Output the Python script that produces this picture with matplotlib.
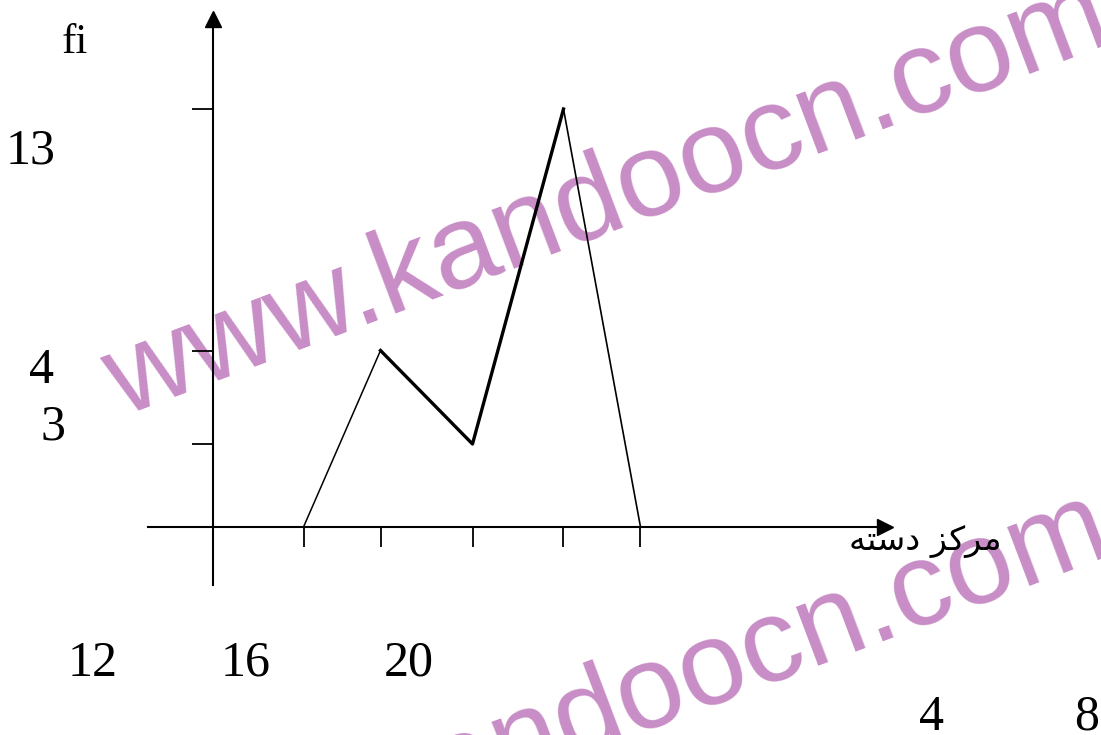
import numpy as np
import matplotlib
matplotlib.use("Agg")
import matplotlib.pyplot as plt

# Frequency polygon: class centres and their frequencies.
centers = [4, 8, 12, 16, 20]
freqs = [0, 4, 3, 13, 0]
y_ticks = [3, 4, 13]
x_title = "مرکز دسته"
y_title = "fi"
watermark = "www.kandoocn.com"

# The sketch is not drawn to scale: where each value sits on the page (px).
x_knots = [-20, 0, 4, 8, 12, 16, 20, 60]
x_px = [-215, 213, 303.5, 380.5, 472.5, 563.5, 640.5, 1496]
y_knots = [-10, 0, 3, 4, 13, 40]
y_px = [-280, 0, 83, 176.5, 418, 1141]

W, H = 1101, 735


def fx(v):
    return np.interp(v, x_knots, x_px)


def fx_inv(p):
    return np.interp(p, x_px, x_knots)


def fy(v):
    return np.interp(v, y_knots, y_px)


def fy_inv(p):
    return np.interp(p, y_px, y_knots)


# matplotlib does no Arabic shaping, so pick the joined glyph forms by hand
FORMS = {  # isolated, final, initial, medial
    "م": "\uFEE1\uFEE2\uFEE3\uFEE4",
    "ر": "\uFEAD\uFEAE",
    "ک": "\uFB8E\uFB8F\uFB90\uFB91",
    "ز": "\uFEAF\uFEB0",
    "د": "\uFEA9\uFEAA",
    "س": "\uFEB1\uFEB2\uFEB3\uFEB4",
    "ت": "\uFE95\uFE96\uFE97\uFE98",
    "ه": "\uFEE9\uFEEA\uFEEB\uFEEC",
}


def shape(text):
    out = []
    for i, ch in enumerate(text):
        if ch not in FORMS:
            out.append(ch)
            continue
        prev = text[i - 1] if i > 0 else " "
        nxt = text[i + 1] if i + 1 < len(text) else " "
        joins_prev = prev in FORMS and len(FORMS[prev]) == 4
        joins_next = nxt in FORMS and len(FORMS[ch]) == 4
        idx = {(0, 0): 0, (1, 0): 1, (0, 1): 2, (1, 1): 3}[(int(joins_prev), int(joins_next))]
        out.append(FORMS[ch][idx])
    return "".join(reversed(out))


def at(px, py):
    # page pixel -> figure fraction
    return px / W, 1 - py / H


fig = plt.figure(figsize=(W / 100, H / 100), dpi=100)
fig.patch.set_facecolor("white")

# axes box: x-axis runs 148..885 px, y-axis 19..585 px, origin at (213, 527)
ax = fig.add_axes([148 / W, 1 - 585 / H, (885 - 148) / W, (585 - 19) / H])
ax.patch.set_visible(False)
ax.set_xscale("function", functions=(fx, fx_inv))
ax.set_yscale("function", functions=(fy, fy_inv))
ax.set_xlim(fx_inv(148), fx_inv(885))
ax.set_ylim(fy_inv(527 - 585), fy_inv(527 - 19))

for side in ["top", "right"]:
    ax.spines[side].set_visible(False)
ax.spines["left"].set_position(("data", 0))
ax.spines["bottom"].set_position(("data", 0))
ax.spines["left"].set_linewidth(1.5)
ax.spines["bottom"].set_linewidth(1.5)

ax.set_xticks(centers)
ax.set_yticks(y_ticks)
ax.tick_params(axis="x", direction="out", length=14.5, width=1.3, labelbottom=False)
ax.tick_params(axis="y", direction="out", length=15, width=1.3, labelleft=False)
ax.minorticks_off()

# arrow heads on the axes
ax.plot(1, 0, ">k", ms=12, transform=ax.get_yaxis_transform(), clip_on=False)
ax.plot(0, 1, "^k", ms=12, transform=ax.get_xaxis_transform(), clip_on=False)

# the polygon: outer legs thin, middle part thick
ax.plot(centers[:2], freqs[:2], color="black", lw=1.1, clip_on=False)
ax.plot(centers[1:4], freqs[1:4], color="black", lw=2.4, clip_on=False)
ax.plot(centers[3:], freqs[3:], color="black", lw=1.2, clip_on=False)

serif = ["Liberation Serif", "DejaVu Serif"]

# labels are scattered on the page, not next to their ticks
x_label_pos = [(932, 730), (1087, 730), (93, 676), (246, 676), (409, 676)]
for c, (px, py) in zip(centers, x_label_pos):
    fig.text(*at(px, py), str(c), ha="center", va="baseline", fontsize=36, family=serif)

y_label_pos = [(53, 439), (42, 383), (31, 163)]
for v, (px, py) in zip(y_ticks, y_label_pos):
    fig.text(*at(px, py), str(v), ha="center", va="baseline", fontsize=36, family=serif)

fig.text(*at(75, 53), y_title, ha="center", va="baseline", fontsize=31, family=serif)
fig.text(*at(925, 550), shape(x_title), ha="center", va="baseline", fontsize=24,
         family=["DejaVu Sans"])

# watermark, twice, under the drawing
for py in [229.5, 741.5]:
    fig.text(*at(619, py), watermark, ha="center", va="baseline", rotation=20.7,
             rotation_mode="anchor", fontsize=86, family=["Liberation Sans", "DejaVu Sans"],
             color="#c88dc6", zorder=-1)

fig.savefig("out.png", dpi=100, facecolor="white")
